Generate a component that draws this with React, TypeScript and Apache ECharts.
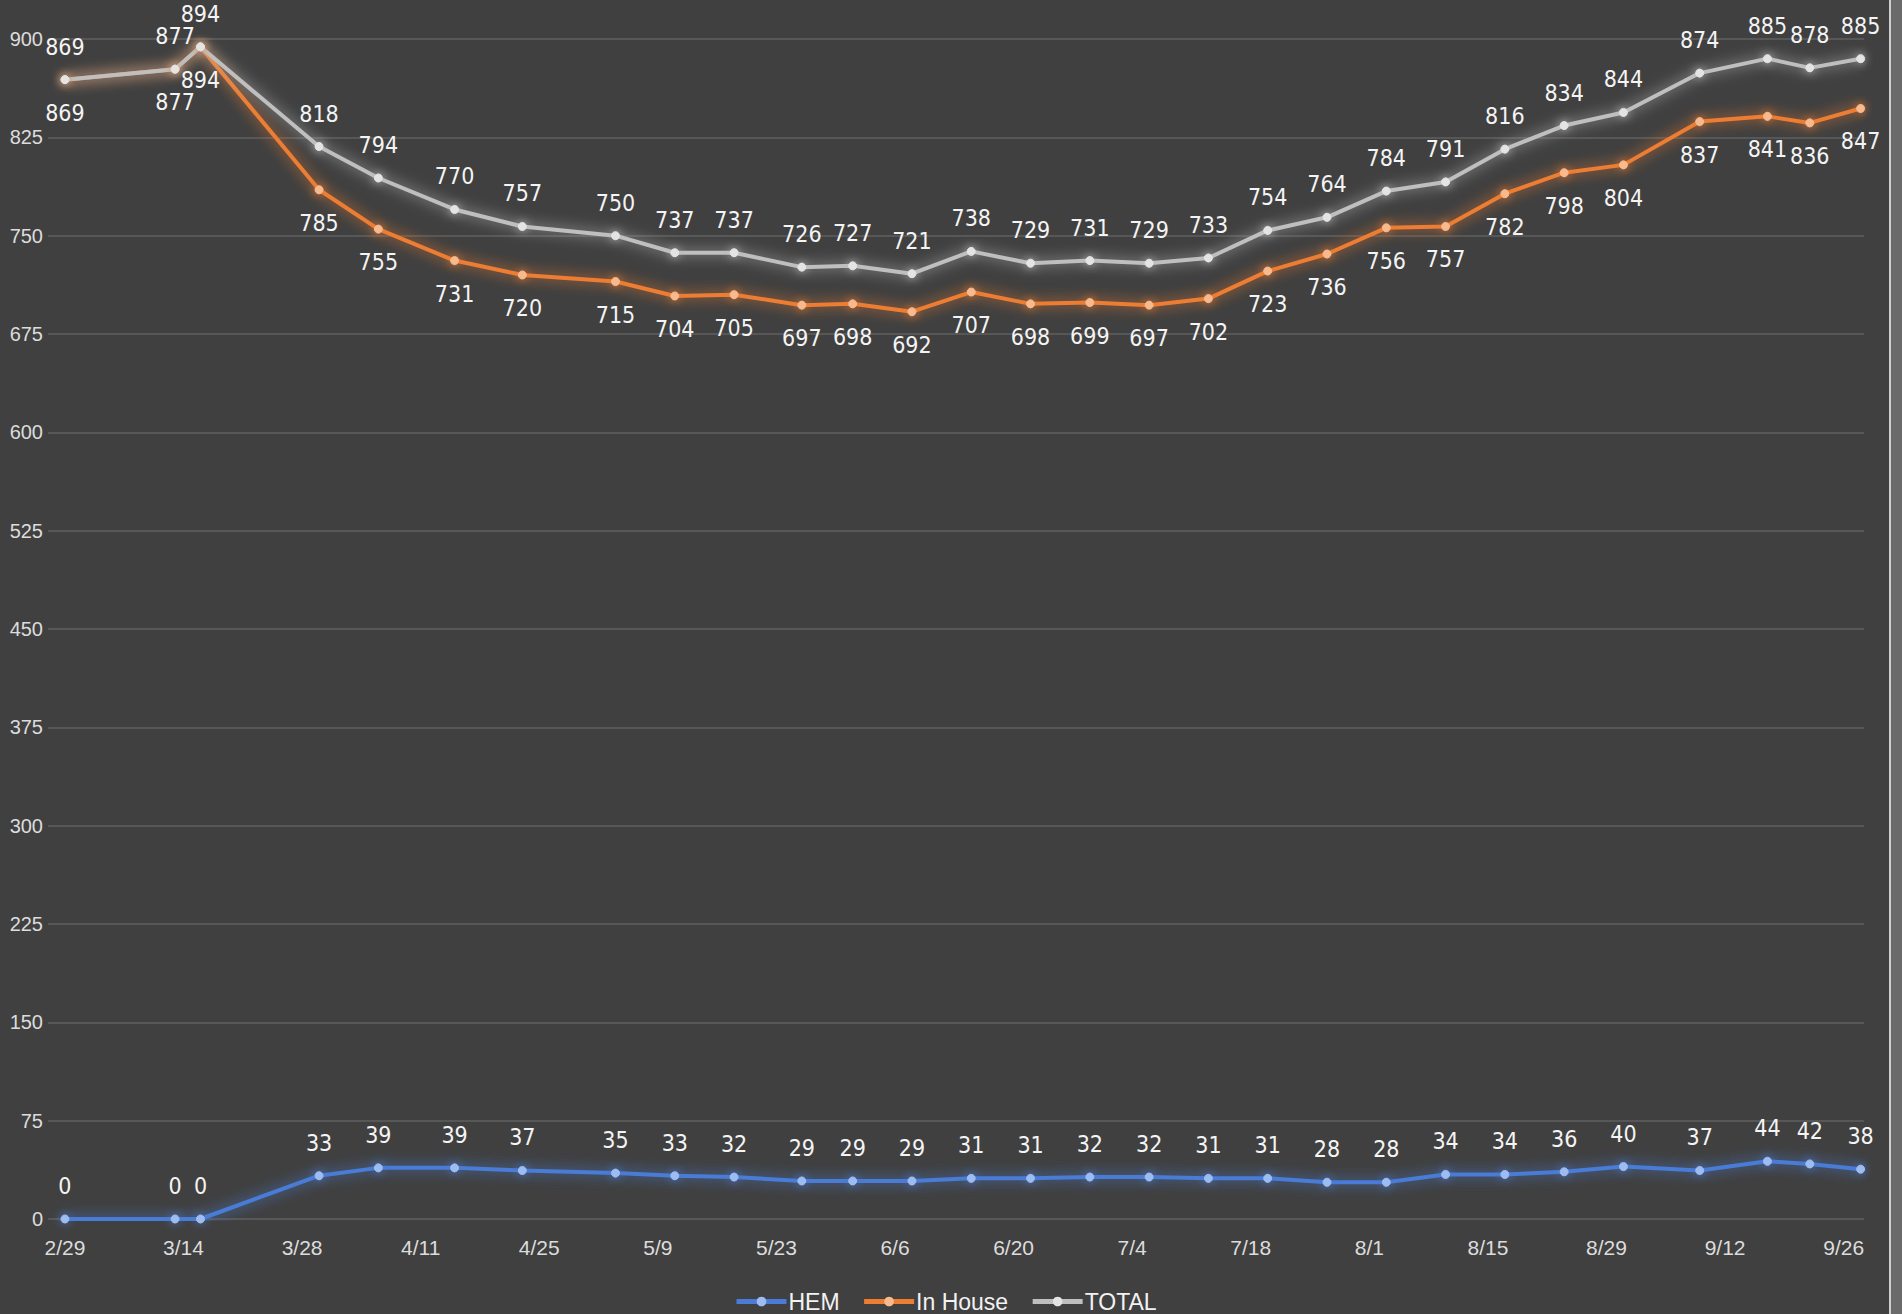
import React, { useEffect, useRef } from 'react';
import * as echarts from 'echarts';

const dates = [
  '2020-02-29', '2020-03-13', '2020-03-16', '2020-03-30', '2020-04-06', '2020-04-15',
  '2020-04-23', '2020-05-04', '2020-05-11', '2020-05-18', '2020-05-26', '2020-06-01',
  '2020-06-08', '2020-06-15', '2020-06-22', '2020-06-29', '2020-07-06', '2020-07-13',
  '2020-07-20', '2020-07-27', '2020-08-03', '2020-08-10', '2020-08-17', '2020-08-24',
  '2020-08-31', '2020-09-09', '2020-09-17', '2020-09-22', '2020-09-28',
];
const hem = [0, 0, 0, 33, 39, 39, 37, 35, 33, 32, 29, 29, 29, 31, 31, 32, 32, 31, 31, 28, 28, 34, 34, 36, 40, 37, 44, 42, 38];
const inHouse = [869, 877, 894, 785, 755, 731, 720, 715, 704, 705, 697, 698, 692, 707, 698, 699, 697, 702, 723, 736, 756, 757, 782, 798, 804, 837, 841, 836, 847];
const total = [869, 877, 894, 818, 794, 770, 757, 750, 737, 737, 726, 727, 721, 738, 729, 731, 729, 733, 754, 764, 784, 791, 816, 834, 844, 874, 885, 878, 885];
const xTickDays = [0, 14, 28, 42, 56, 70, 84, 98, 112, 126, 140, 154, 168, 182, 196, 210];
const yMin = 0;
const yMax = 900;
const yStep = 75;

const DAY = 86400000;
const base = Date.parse(dates[0]);
const dayOf = (d: string) => Math.round((Date.parse(d) - base) / DAY);
const fmtDay = (v: number) => {
  const d = new Date(base + v * DAY);
  return `${d.getUTCMonth() + 1}/${d.getUTCDate()}`;
};

const narrow = '"Liberation Sans Narrow", "Arial Narrow", "DejaVu Sans Condensed", sans-serif';
const sans = '"Liberation Sans", Arial, sans-serif';

function mkSeries(name: string, vals: number[], color: string, marker: string, pos: 'top' | 'bottom') {
  return {
    name,
    type: 'line',
    data: vals.map((v, i) => [dayOf(dates[i]), v]),
    symbol: 'circle',
    symbolSize: 8,
    lineStyle: { color, width: 4, shadowBlur: 14, shadowColor: color },
    itemStyle: { color: marker, borderColor: marker, shadowBlur: 10, shadowColor: color },
    label: {
      show: true,
      position: pos,
      distance: 17,
      color: '#f4f4f4',
      fontFamily: narrow,
      fontSize: 23,
      formatter: (p: any) => String(p.value[1]),
    },
  };
}

export default function App() {
  const ref = useRef<HTMLDivElement>(null);
  useEffect(() => {
    if (!ref.current) return;
    const chart = echarts.init(ref.current, undefined, { renderer: 'svg' });
    chart.setOption({
      animation: false,
      backgroundColor: '#404040',
      grid: { left: 48, right: 38, top: 39, bottom: 95, containLabel: false },
      xAxis: {
        type: 'value',
        min: -2,
        max: 212.4,
        axisLine: { show: false },
        axisTick: { show: false },
        splitLine: { show: false },
        axisLabel: {
          customValues: xTickDays,
          formatter: (v: number) => fmtDay(v),
          color: '#dcdcdc',
          fontFamily: sans,
          fontSize: 21,
          margin: 18,
        },
      },
      yAxis: {
        type: 'value',
        min: yMin,
        max: yMax,
        interval: yStep,
        axisLine: { show: false },
        axisTick: { show: false },
        splitLine: { lineStyle: { color: '#575757', width: 2 } },
        axisLabel: { color: '#dcdcdc', fontFamily: sans, fontSize: 20, margin: 5 },
      },
      legend: {
        data: ['HEM', 'In House', 'TOTAL'],
        left: 729,
        top: 1285,
        itemWidth: 50,
        itemHeight: 12,
        itemGap: 22,
        lineStyle: { width: 5 },
        textStyle: { color: '#f2f2f2', fontFamily: sans, fontSize: 23, padding: [0, 0, 0, -3] },
      },
      graphic: [
        { type: 'rect', shape: { x: 1889, y: 0, width: 2, height: 1314 }, style: { fill: '#cfcfcf' } },
        { type: 'rect', shape: { x: 1891, y: 0, width: 11, height: 1314 }, style: { fill: '#6a6a6a' } },
      ],
      series: [
        mkSeries('HEM', hem, '#4a7bd6', '#9dbcf2', 'top'),
        mkSeries('In House', inHouse, '#ed7d31', '#f8b98c', 'bottom'),
        mkSeries('TOTAL', total, '#bfbfbf', '#e4e4e4', 'top'),
      ],
    });
    return () => chart.dispose();
  }, []);
  return <div ref={ref} style={{ position: 'fixed', left: 0, top: 0, width: 1902, height: 1314 }} />;
}
